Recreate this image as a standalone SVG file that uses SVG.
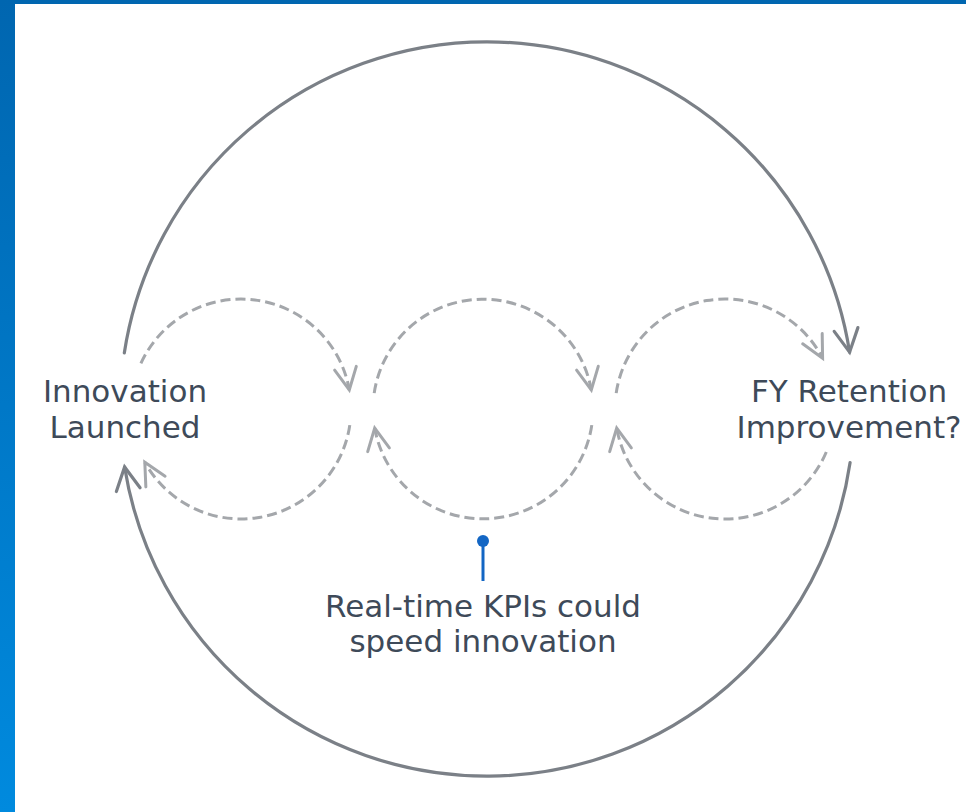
<svg xmlns="http://www.w3.org/2000/svg" width="966" height="812" viewBox="0 0 966 812">
  <defs>
    <linearGradient id="barGrad" x1="0" y1="0" x2="0" y2="1">
      <stop offset="0" stop-color="#0066b0"/>
      <stop offset="1" stop-color="#008ade"/>
    </linearGradient>
    <marker id="bigHead" markerUnits="userSpaceOnUse" markerWidth="40" markerHeight="40" refX="0" refY="0" viewBox="-30 -20 40 40" orient="auto" overflow="visible">
      <path d="M-23,-12 L0,0 L-23,12" fill="none" stroke="#7b8087" stroke-width="3.2" stroke-linecap="round" stroke-linejoin="miter"/>
    </marker>
    <marker id="dashHead" markerUnits="userSpaceOnUse" markerWidth="40" markerHeight="40" refX="0" refY="0" viewBox="-30 -20 40 40" orient="auto" overflow="visible">
      <path d="M-22,-11 L0,0 L-22,11" fill="none" stroke="#a4a7ab" stroke-width="3" stroke-linecap="round" stroke-linejoin="miter"/>
    </marker>
  </defs>
  <style>
    .big { fill: none; stroke: #7b8087; stroke-width: 3.2; stroke-linecap: round; marker-end: url(#bigHead); }
    .dash { fill: none; stroke: #a4a7ab; stroke-width: 3; stroke-dasharray: 10 5; marker-end: url(#dashHead); }
    .lbl { font-family: "DejaVu Sans", Verdana, sans-serif; font-size: 31px; fill: #3e4a59; text-anchor: middle; }
  </style>
  <rect x="0" y="0" width="966" height="812" fill="#ffffff"/>
  <rect x="0" y="0" width="966" height="4" fill="#0066b0"/>
  <rect x="0" y="0" width="15" height="812" fill="url(#barGrad)"/>

  <g id="connectors">
    <path class="big" d="M124.3,352.9 A367,367 0 0 1 849.6,352.2"/>
    <path class="big" d="M850.1,462.6 A367,367 0 0 1 124.6,467.0"/>

    <path class="dash" d="M140.9,363.4 A110,110 0 0 1 349.3,389.9"/>
    <path class="dash" d="M349.8,425.1 A110,110 0 0 1 144.8,462.3"/>

    <path class="dash" d="M374.2,393.1 A110,110 0 0 1 591.3,389.9"/>
    <path class="dash" d="M591.8,425.1 A110,110 0 0 1 374.7,428.1"/>

    <path class="dash" d="M616.2,393.1 A110,110 0 0 1 822.6,358.2"/>
    <path class="dash" d="M826.3,452.0 A110,110 0 0 1 616.7,428.1"/>
  </g>

  <g id="node-innovation">
    <text class="lbl" x="125" y="402">Innovation</text>
    <text class="lbl" x="125" y="438">Launched</text>
  </g>

  <g id="node-retention">
    <text class="lbl" x="849" y="402">FY Retention</text>
    <text class="lbl" x="849" y="438">Improvement?</text>
  </g>

  <g id="node-kpi">
    <line x1="483" y1="541" x2="483" y2="581" stroke="#1366c4" stroke-width="3"/>
    <circle cx="483" cy="541" r="6" fill="#1366c4"/>
    <text class="lbl" x="483" y="617">Real-time KPIs could</text>
    <text class="lbl" x="483" y="652">speed innovation</text>
  </g>
</svg>
